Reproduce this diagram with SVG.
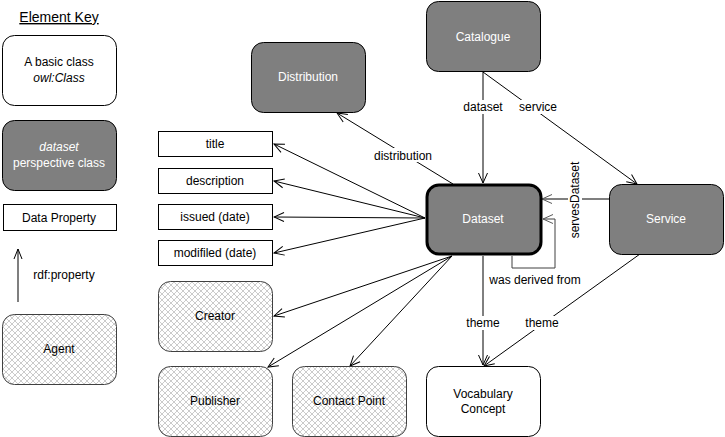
<svg xmlns="http://www.w3.org/2000/svg" width="725" height="437" viewBox="0 0 725 437">
<defs>
<pattern id="hatch" width="6" height="6" patternUnits="userSpaceOnUse">
<rect width="6" height="6" fill="#ffffff"/>
<path d="M0,0 L6,6 M6,0 L0,6" stroke="#b4b4b4" stroke-width="0.7"/>
</pattern>
<marker id="arr" markerWidth="12" markerHeight="12" refX="11" refY="6" orient="auto" markerUnits="userSpaceOnUse">
<path d="M1,1.5 L11,6 L1,10.5" fill="none" stroke="#000" stroke-width="1"/>
</marker>
<marker id="arrg" markerWidth="12" markerHeight="12" refX="11" refY="6" orient="auto" markerUnits="userSpaceOnUse">
<path d="M1,1.5 L11,6 L1,10.5" fill="none" stroke="#595959" stroke-width="1"/>
</marker>
</defs>
<style>
text{font-family:"Liberation Sans",Arial,sans-serif;font-size:12px;text-anchor:middle;fill:#000}
.w{fill:#ffffff}
.cls{fill:#ffffff;stroke:#000;stroke-width:1}
.per{fill:#7f7f7f;stroke:#000;stroke-width:1}
.thick{stroke-width:3}
.agt{fill:url(#hatch);stroke:#404040;stroke-width:1}
.dp{fill:#ffffff;stroke:#000;stroke-width:1}
.ln{fill:none;stroke:#000;stroke-width:1}
.lb{fill:#ffffff;stroke:none}
</style>

<g id="legend">
<text x="59" y="22" style="font-size:14px;text-decoration:underline">Element Key</text>
<g id="key-class"><rect class="cls" x="2.5" y="35.5" width="114" height="70" rx="12"/><text x="59" y="66">A basic class</text><text x="59" y="82" font-style="italic">owl:Class</text></g>
<g id="key-perspective"><rect class="per" x="2.5" y="120.5" width="114" height="70" rx="12"/><text class="w" x="59" y="151" font-style="italic">dataset</text><text class="w" x="59" y="167">perspective class</text></g>
<g id="key-dataprop"><rect class="dp" x="3.5" y="204.5" width="113" height="26"/><text x="59" y="222">Data Property</text></g>
<g id="key-arrow"><line x1="18" y1="302" x2="18" y2="249" stroke="#7f7f7f" stroke-width="2"/><path d="M14,259 L18,249 L22,259" fill="none" stroke="#000" stroke-width="1"/><text x="64" y="279">rdf:property</text></g>
<g id="key-agent"><rect class="agt" x="2.5" y="314.5" width="114" height="70" rx="12"/><text x="59" y="353">Agent</text></g>
</g>

<g id="connectors">
<line class="ln" x1="425" y1="218" x2="274" y2="144" marker-end="url(#arr)"/>
<line class="ln" x1="425" y1="218" x2="274" y2="181" marker-end="url(#arr)"/>
<line class="ln" x1="425" y1="218" x2="274" y2="217" marker-end="url(#arr)"/>
<line class="ln" x1="425" y1="218" x2="274" y2="253" marker-end="url(#arr)"/>
<line class="ln" x1="452" y1="256" x2="274" y2="316" marker-end="url(#arr)"/>
<line class="ln" x1="452" y1="256" x2="268" y2="367" marker-end="url(#arr)"/>
<line class="ln" x1="452" y1="256" x2="350" y2="366" marker-end="url(#arr)"/>
<line class="ln" x1="453" y1="184" x2="337" y2="113" marker-end="url(#arr)"/>
<line class="ln" x1="483" y1="72" x2="483" y2="183" marker-end="url(#arr)"/>
<line class="ln" x1="483" y1="72" x2="637" y2="184" marker-end="url(#arr)"/>
<line x1="609" y1="199" x2="542" y2="199" stroke="#7f7f7f" stroke-width="2" marker-end="url(#arrg)"/>
<polyline points="512,256 512,268 555,268 555,219 543,219" fill="none" stroke="#404040" stroke-width="1" marker-end="url(#arrg)"/>
<line class="ln" x1="483" y1="256" x2="483" y2="365" marker-end="url(#arr)"/>
<line class="ln" x1="640" y1="254" x2="484" y2="366" marker-end="url(#arr)"/>
<rect class="lb" x="371" y="148" width="64" height="14"/><text x="403" y="160">distribution</text>
<rect class="lb" x="462" y="100" width="42" height="14"/><text x="483" y="111">dataset</text>
<rect class="lb" x="518" y="100" width="40" height="14"/><text x="538" y="111">service</text>
<rect class="lb" x="568" y="163" width="14" height="74"/><text x="0" y="0" transform="translate(579,200) rotate(-90)">servesDataset</text>
<text x="535" y="284">was derived from</text>
<rect class="lb" x="466" y="316" width="34" height="14"/><text x="483" y="327">theme</text>
<rect class="lb" x="524" y="316" width="36" height="14"/><text x="542" y="327">theme</text>
</g>

<g id="catalogue"><rect class="per" x="426.5" y="1.5" width="114" height="70" rx="12"/><text class="w" x="483" y="41">Catalogue</text></g>
<g id="distribution"><rect class="per" x="251.5" y="42.5" width="114" height="70" rx="12"/><text class="w" x="308" y="81">Distribution</text></g>
<g id="dataset"><rect class="per thick" x="427" y="185" width="114" height="69" rx="12"/><text class="w" x="483" y="223">Dataset</text></g>
<g id="service"><rect class="per" x="609.5" y="184.5" width="114" height="70" rx="12"/><text class="w" x="666" y="223">Service</text></g>
<g id="vocabulary-concept"><rect class="cls" x="426.5" y="366.5" width="114" height="70" rx="12"/><text x="483" y="398">Vocabulary</text><text x="483" y="413">Concept</text></g>
<g id="title"><rect class="dp" x="158.5" y="131.5" width="114" height="25"/><text x="215" y="148">title</text></g>
<g id="description"><rect class="dp" x="158.5" y="168.5" width="114" height="25"/><text x="215" y="185">description</text></g>
<g id="issued"><rect class="dp" x="158.5" y="204.5" width="114" height="25"/><text x="215" y="221">issued (date)</text></g>
<g id="modified"><rect class="dp" x="158.5" y="240.5" width="114" height="25"/><text x="215" y="257">modifiled (date)</text></g>
<g id="creator"><rect class="agt" x="158.5" y="281.5" width="114" height="70" rx="12"/><text x="215" y="320">Creator</text></g>
<g id="publisher"><rect class="agt" x="158.5" y="366.5" width="114" height="70" rx="12"/><text x="215" y="405">Publisher</text></g>
<g id="contact-point"><rect class="agt" x="292.5" y="366.5" width="114" height="70" rx="12"/><text x="349" y="405">Contact Point</text></g>
</svg>
